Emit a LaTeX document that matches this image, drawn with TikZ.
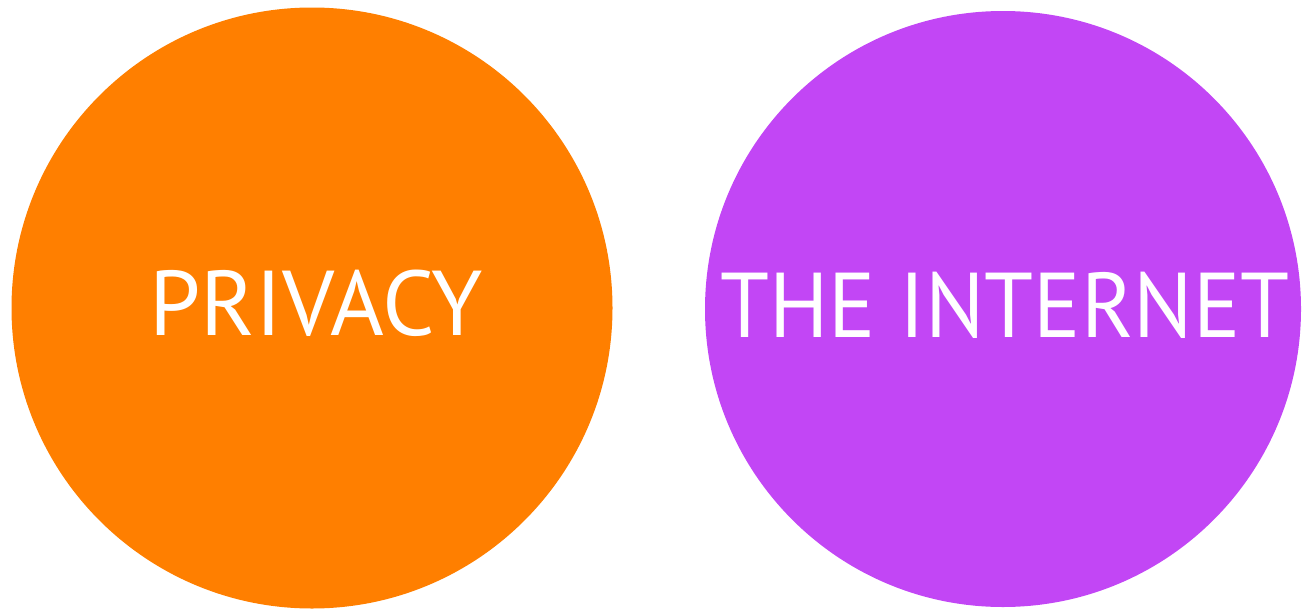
\documentclass[tikz,border=0pt]{standalone}
\usepackage{fontspec}
\setmainfont{PT Sans}
\definecolor{orng}{RGB}{255,127,0}
\definecolor{prpl}{RGB}{194,70,245}
\begin{document}
\begin{tikzpicture}[x=1pt,y=-1pt,
  disc/.style={circle,inner sep=0pt,minimum size=#1},
  lbl/.style={text=white,font=\fontsize{92}{100}\selectfont,inner sep=0pt,anchor=base}]
\useasboundingbox (0,0) rectangle (1303,613);
\node[disc=601pt,fill=orng] (priv) at (312,308) {};
\node[disc=596pt,fill=prpl] (inet) at (1003,309) {};
\node[lbl] (ptxt) at (316,335) {PRIVACY};
\node[lbl,xscale=0.96] (itxt) at (1005,337) {THE INTERNET};
\end{tikzpicture}
\end{document}
